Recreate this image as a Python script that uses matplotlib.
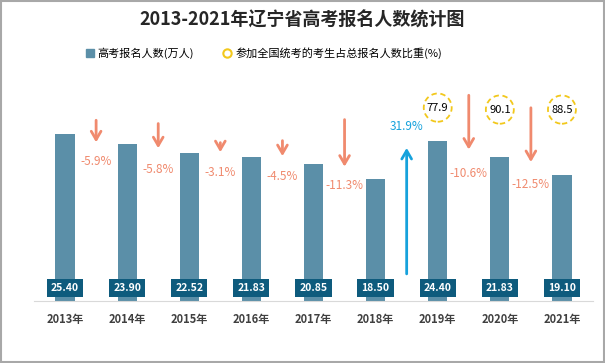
import matplotlib.pyplot as plt
from matplotlib.lines import Line2D
from matplotlib.patches import Rectangle, Ellipse

plt.rcParams['font.family'] = ['Noto Sans CJK SC', 'DejaVu Sans']

years = ['2013年', '2014年', '2015年', '2016年', '2017年', '2018年', '2019年', '2020年', '2021年']
applicants = [25.40, 23.90, 22.52, 21.83, 20.85, 18.50, 24.40, 21.83, 19.10]
changes = ['-5.9%', '-5.8%', '-3.1%', '-4.5%', '-11.3%', '31.9%', '-10.6%', '-12.5%']
# arrow start / end and label height for each year-to-year change
arrow_from = [27.9, 27.4, 24.5, 24.8, 28.0, 3.7, 31.7, 29.8]
arrow_to = [23.7, 22.8, 22.2, 21.6, 20.0, 23.7, 22.6, 20.7]
label_y = [21.2, 20.0, 19.5, 19.0, 17.5, 26.6, 19.4, 17.7]
share_idx = [6, 7, 8]
share = ['77.9', '90.1', '88.5']
share_y = [29.4, 29.1, 29.1]

bar_c = '#5b8fa8'
box_c = '#0e5b7d'
down_c = '#f08a6e'
up_c = '#16a2dc'
gold = '#f2c81c'

fig = plt.figure(figsize=(6.05, 3.63), dpi=100)
fig.patches.append(Rectangle((0.002, 0.003), 0.996, 0.994, transform=fig.transFigure,
                             fill=False, edgecolor='#a8a8a8', linewidth=1.5))

ax = fig.add_axes([34 / 605, 62 / 363, 559 / 605, 221 / 363])
x = list(range(len(years)))
ax.bar(x, applicants, width=0.31, color=bar_c, zorder=2)
ax.set_xlim(-0.5, 8.5)
ax.set_ylim(0, 33.6)

for i, v in enumerate(applicants):
    ax.text(i, 2.0, f'{v:.2f}', ha='center', va='center', color='white', fontsize=7.5,
            fontweight='bold', zorder=4,
            bbox=dict(boxstyle='square,pad=0.4', facecolor=box_c, edgecolor='none'))

for i, c in enumerate(changes):
    xi = i + 0.5
    col = up_c if c[0] != '-' else down_c
    ax.annotate('', xy=(xi, arrow_to[i]), xytext=(xi, arrow_from[i]),
                arrowprops=dict(arrowstyle='->,head_length=0.6,head_width=0.35', color=col, lw=2))
    ax.text(xi, label_y[i], c, ha='center', va='center', color=col, fontsize=8.5)

for k, i in enumerate(share_idx):
    ax.add_patch(Ellipse((i, share_y[k]), 0.45, 4.3, fill=False, edgecolor=gold,
                         linestyle=(0, (3, 2)), linewidth=1.3, zorder=3))
    ax.text(i, share_y[k], share[k], ha='center', va='center', color='black', fontsize=8)

for s in ['top', 'right', 'left']:
    ax.spines[s].set_visible(False)
ax.spines['bottom'].set_color('#d9d9d9')
ax.set_yticks([])
ax.set_xticks(x)
ax.set_xticklabels(years, fontsize=8, fontweight='bold', color='#404040')
ax.tick_params(axis='x', length=0, pad=9)

fig.text(0.5, 0.944, '2013-2021年辽宁省高考报名人数统计图', ha='center', va='center',
         fontsize=13, fontweight='bold', color='#262626')

handles = [
    Line2D([], [], marker='s', linestyle='none', markersize=6, color=bar_c),
    Line2D([], [], marker='o', linestyle='none', markersize=6, markerfacecolor='none',
           markeredgecolor=gold, markeredgewidth=1.5),
]
fig.legend(handles, ['高考报名人数(万人)', '参加全国统考的考生占总报名人数比重(%)'],
           loc='center', bbox_to_anchor=(0.435, 0.853), ncol=2, frameon=False,
           fontsize=8, handletextpad=0.2, columnspacing=2.5, handlelength=1)

fig.savefig('out.png', dpi=100)
